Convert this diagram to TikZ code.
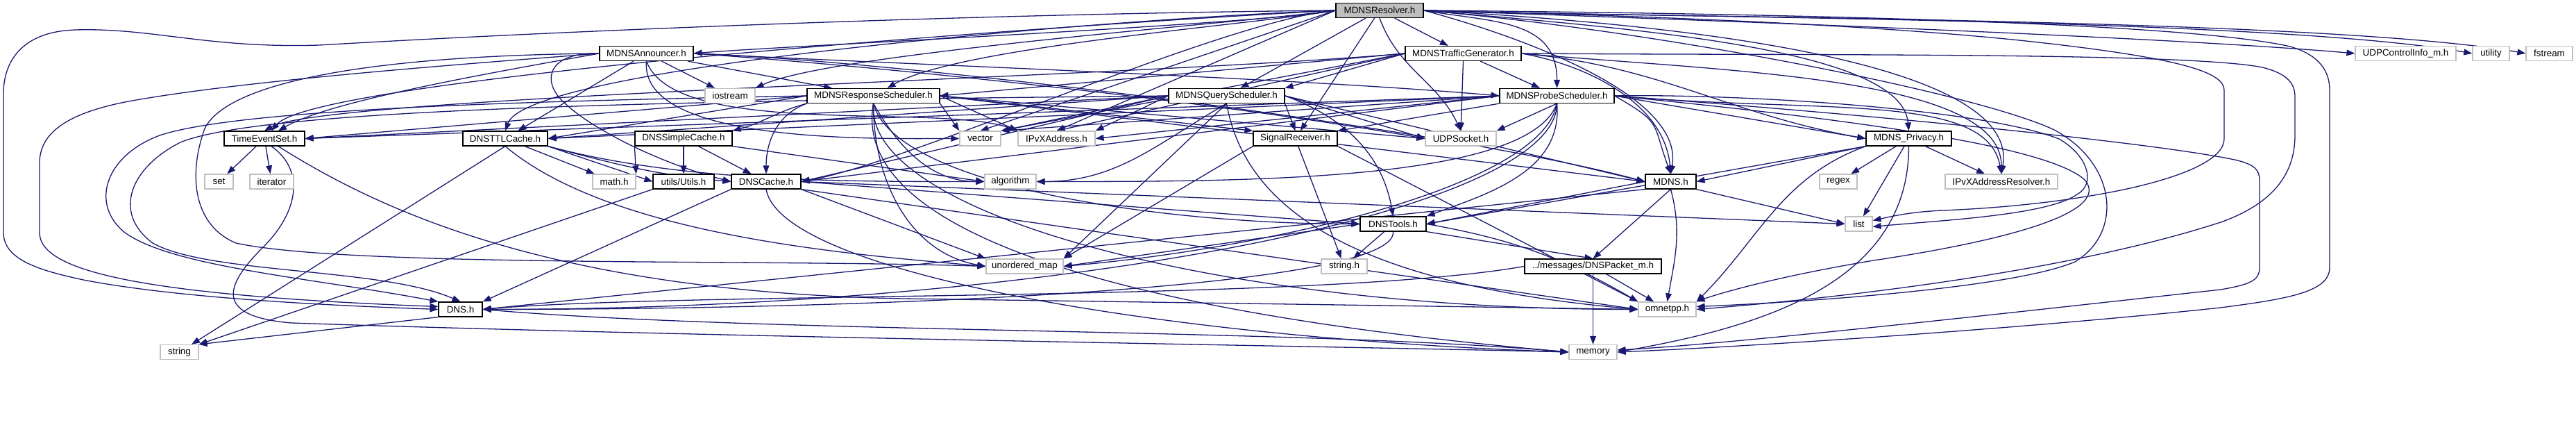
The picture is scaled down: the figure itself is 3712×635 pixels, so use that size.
\documentclass[tikz,border=0pt]{standalone}
\usepackage{fontspec}
\setmainfont{Liberation Sans}
\usetikzlibrary{arrows.meta,calc}
\pgfdeclarelayer{bg}
\pgfsetlayers{bg,main}
\definecolor{eb}{HTML}{191970}
\definecolor{gb}{HTML}{BFBFBF}
\begin{document}
\begin{tikzpicture}[x=0.5pt,y=0.5pt,
 nd/.style={draw=black,line width=0.6pt,fill=white,inner sep=0pt,minimum height=10.5pt,font=\fontsize{6.7pt}{7pt}\selectfont},
 gn/.style={nd,draw=gb},
 wd/.style={minimum width=#1*0.5pt},
 e/.style={draw=eb,line width=0.65pt,-{Triangle[length=6pt,width=4.4pt]}}]
\useasboundingbox (0,0) rectangle (3712,635);
\node[nd,fill=gb,wd=126] (R) at (1988,620) {MDNSResolver.h};
\node[nd,wd=135] (A) at (931.5,558) {MDNSAnnouncer.h};
\node[nd,wd=167] (TG) at (2108.5,558) {MDNSTrafficGenerator.h};
\node[gn,wd=145] (UCI) at (3466.5,558) {UDPControlInfo\_m.h};
\node[gn,wd=53] (UT) at (3589.5,558) {utility};
\node[gn,wd=67] (FS) at (3673.5,558) {fstream};
\node[gn,wd=72] (IOS) at (1052,497) {iostream};
\node[nd,wd=191] (RS) at (1258.5,497) {MDNSResponseScheduler.h};
\node[nd,wd=167] (QS) at (1767.5,497) {MDNSQueryScheduler.h};
\node[nd,wd=165] (PS) at (2243.5,497) {MDNSProbeScheduler.h};
\node[nd,wd=116] (TES) at (381,435.5) {TimeEventSet.h};
\node[nd,wd=122] (TTL) at (728,435.5) {DNSTTLCache.h};
\node[nd,wd=140] (DSC) at (985,435.5) {DNSSimpleCache.h};
\node[gn,wd=59] (VEC) at (1412.5,435.5) {vector};
\node[gn,wd=111] (IA) at (1522.5,435.5) {IPvXAddress.h};
\node[nd,wd=121] (SR) at (1866.5,435.5) {SignalReceiver.h};
\node[gn,wd=102] (US) at (2105,435.5) {UDPSocket.h};
\node[nd,wd=123] (P) at (2750.5,435.5) {MDNS\_Privacy.h};
\node[gn,wd=41] (SET) at (315.5,373.5) {set};
\node[gn,wd=63] (ITR) at (391.5,373.5) {iterator};
\node[gn,wd=62] (MATH) at (885,373.5) {math.h};
\node[nd,wd=88] (UTL) at (985,373.5) {utils/Utils.h};
\node[nd,wd=100] (DC) at (1104,373.5) {DNSCache.h};
\node[gn,wd=74] (ALG) at (1456,373.5) {algorithm};
\node[nd,wd=73] (M) at (2407.5,373.5) {MDNS.h};
\node[gn,wd=54] (RGX) at (2649,373.5) {regex};
\node[gn,wd=162] (IAR) at (2884,373.5) {IPvXAddressResolver.h};
\node[nd,wd=95] (DT) at (2007.5,312.5) {DNSTools.h};
\node[gn,wd=39] (LST) at (2678.5,312.5) {list};
\node[gn,wd=66] (SH) at (1937,251.5) {string.h};
\node[gn,wd=111] (UM) at (1476.5,251.5) {unordered\_map};
\node[nd,wd=197] (PK) at (2295.5,251.5) {../messages/DNSPacket\_m.h};
\node[nd,wd=63] (DNS) at (663.5,189.5) {DNS.h};
\node[gn,wd=83] (OMN) at (2402.5,189.5) {omnetpp.h};
\node[gn,wd=55] (STR) at (258.5,128) {string};
\node[gn,wd=69] (MEM) at (2295.5,128) {memory};
\begin{pgfonlayer}{bg}
% MDNSResolver
\draw[e] (R.west) to[out=190,in=5,distance=60pt] (A.east);
\draw[e] (R) -- (TG);
\draw[e] (R) -- (QS);
\draw[e] (R) -- (SR);
\draw[e] (R.south) to[out=-70,in=115] (US.north);
\draw[e] (R.east) to[out=-10,in=90,distance=50pt] (PS.north);
\draw[e] (R.west) to[out=190,in=30,distance=60pt] ($(RS.north)+(20,0)$);
\draw[e] (R.west) to[out=188,in=25,distance=60pt] (IOS.north east);
\draw[e] (R.west) -- (VEC.north);
\draw[e] (R.west) -- (IA.north);
\draw[e] (R.west) to[out=182,in=70,out distance=150pt,in distance=50pt] (TTL.north);
\draw[e] (R.west) to[out=185,in=10,distance=80pt] (DC.east);
\draw[e] (R.west) to[out=183,in=50,out distance=200pt,in distance=50pt] ($(TES.north)+(10,0)$);
\draw[e] (R.east) to[out=-15,in=80,distance=60pt] (M.north);
\draw[e] (R.east) to[out=-5,in=95,out distance=150pt,in distance=60pt] (P.north);
\draw[e] (R.east) to[out=-3,in=80,out distance=200pt,in distance=80pt] (IAR.north);
\draw[e] (R.east) to[out=-2,in=175,distance=150pt] (UCI.west);
\draw[e] (R.east) to[out=-2,in=170,distance=150pt] (UT.west);
\draw[e] (R.east) to[out=-2,in=170,distance=150pt] (FS.west);
\draw[e] (R.west) .. controls (1400,615) and (800,590) .. (460,570) .. controls (300,565) and (220,595) .. (110,592) .. controls (30,590) and (5,545) .. (5,500) -- (5,300) .. controls (5,260) and (60,245) .. (120,232) .. controls (260,205) and (480,195) .. (DNS.west);
\draw[e] (R.east) .. controls (2400,612) and (2700,598) .. (2900,578) .. controls (3150,552) and (3205,530) .. (3205,505) -- (3205,435) .. controls (3205,380) and (3000,340) .. (2800,332) .. controls (2750,330) and (2720,322) .. ($(LST.east)+(0,5)$);
\draw[e] (R.east) .. controls (2600,615) and (3150,602) .. (3300,568) .. controls (3345,555) and (3357,530) .. (3357,505) -- (3357,250) .. controls (3357,215) and (3300,205) .. (3200,192) .. controls (2900,160) and (2500,135) .. (MEM.east);
\draw[e] (R.east) .. controls (2400,590) and (2850,500) .. (2960,448) .. controls (3050,400) and (3060,300) .. (2990,258) .. controls (2900,220) and (2600,200) .. ($(OMN.east)+(0,4)$);
% MDNSAnnouncer
\draw[e] (A) -- (IOS);
\draw[e] (A) -- (RS);
\draw[e] (A) -- (TTL);
\draw[e] (A.west) to[out=190,in=30,out distance=100pt,in distance=40pt] ($(TES.north)+(20,0)$);
\draw[e] (A.south) to[out=-95,in=180,distance=60pt] (VEC.west);
\draw[e] (A.south) to[out=-70,in=160,distance=60pt] (IA.north west);
\draw[e] (A.west) .. controls (790,560) and (780,520) .. (810,490) .. controls (850,450) and (950,400) .. (DC.west);
\draw[e] (A.east) to[out=-3,in=175,distance=150pt] (PS.west);
\draw[e] (A.east) to[out=-2,in=165,distance=150pt] (M.west);
\draw[e] (A.east) to[out=-4,in=170,distance=150pt] (US.west);
\draw[e] (A.west) .. controls (700,545) and (350,520) .. (180,488) .. controls (90,470) and (57,440) .. (57,400) -- (57,300) .. controls (57,245) and (200,210) .. ($(DNS.west)+(0,4)$);
\draw[e] (A.west) .. controls (550,555) and (330,520) .. (295,450) .. controls (270,380) and (280,310) .. (340,285) .. controls (500,250) and (1100,262) .. (UM.west);
% MDNSTrafficGenerator
\draw[e] (TG) -- (PS);
\draw[e] (TG.south) -- (US.north);
\draw[e] (TG.west) -- (QS.north east);
\draw[e] (TG.west) -- (RS.east);
\draw[e] (TG.west) to[out=185,in=30,out distance=200pt,in distance=50pt] (TES.north);
\draw[e] (TG.west) -- (VEC.north east);
\draw[e] (TG.west) -- (IA.north);
\draw[e] (TG.east) to[out=-10,in=95,distance=50pt] (M.north);
\draw[e] (TG.east) to[out=-5,in=170,distance=100pt] (P.west);
\draw[e] (TG.east) to[out=-5,in=90,out distance=150pt,in distance=70pt] (IAR.north);
\draw[e] (TG.east) .. controls (2600,555) and (3150,560) .. (3260,538) .. controls (3300,528) and (3307,512) .. (3307,495) -- (3307,440) .. controls (3307,380) and (3270,340) .. (3200,315) .. controls (3000,250) and (2700,210) .. (OMN.east);
% MDNSResponseScheduler
\draw[e] (RS.west) -- (TES.east);
\draw[e] (RS.west) -- (TTL.east);
\draw[e] (RS.south west) to[out=195,in=15] (DSC.north east);
\draw[e] (RS.south west) to[out=200,in=90] (DC.north);
\draw[e] (RS.south east) -- (VEC.north west);
\draw[e] (RS.east) -- (IA.north west);
\draw[e] (RS.south) to[out=-60,in=180] (ALG.west);
\draw[e] (RS.south) to[out=-90,in=170] (UM.west);
\draw[e] (RS.south) to[out=-75,in=180,out distance=60pt,in distance=150pt] (DT.west);
\draw[e] (RS.south) to[out=-95,in=180,out distance=80pt,in distance=300pt] (OMN.west);
\draw[e] (RS.south) to[out=-100,in=175,out distance=100pt,in distance=300pt] (MEM.west);
\draw[e] (RS.east) -- (M.west);
\draw[e] (RS.east) -- (SR.north west);
\draw[e] (RS.east) -- (US.west);
\draw[e] (RS.west) .. controls (800,490) and (350,480) .. (230,440) .. controls (150,410) and (130,340) .. (180,300) .. controls (250,250) and (450,235) .. (DNS.north west);
% MDNSQueryScheduler
\draw[e] (QS.west) -- (TES.east);
\draw[e] (QS.west) -- (TTL.east);
\draw[e] (QS.west) -- (DC.east);
\draw[e] (QS.west) -- (VEC.north east);
\draw[e] (QS.west) -- (IA.north east);
\draw[e] (QS.south) to[out=-150,in=0] (ALG.east);
\draw[e] (QS.south) -- (UM.north east);
\draw[e] (QS.south east) -- (SR.north);
\draw[e] (QS.east) -- (US.west);
\draw[e] (QS.east) to[out=-20,in=100] (DT.north);
\draw[e] (QS.east) -- (M.west);
\draw[e] (QS.south) to[out=-80,in=175,out distance=80pt,in distance=200pt] (OMN.west);
\draw[e] (QS.west) .. controls (1000,490) and (380,480) .. (260,430) .. controls (190,395) and (160,330) .. (220,285) .. controls (300,240) and (550,250) .. (DNS.north);
% MDNSProbeScheduler
\draw[e] (PS.west) -- (TES.east);
\draw[e] (PS.west) -- (TTL.east);
\draw[e] (PS.west) -- (DC.east);
\draw[e] (PS.west) -- (VEC.north east);
\draw[e] (PS.west) -- (IA.east);
\draw[e] (PS.south) -- (US.north east);
\draw[e] (PS.south west) -- (SR.north east);
\draw[e] (PS.south) to[out=-110,in=0,out distance=60pt,in distance=150pt] (ALG.east);
\draw[e] (PS.south) to[out=-100,in=5,out distance=60pt,in distance=150pt] (UM.east);
\draw[e] (PS.south) to[out=-85,in=20] (DT.north east);
\draw[e] (PS.south) to[out=-90,in=0,out distance=80pt,in distance=400pt] (DNS.east);
\draw[e] (PS.east) to[out=-30,in=110,distance=40pt] (M.north);
\draw[e] (PS.east) -- (P.west);
\draw[e] (PS.east) to[out=-5,in=100,out distance=150pt,in distance=60pt] (IAR.north);
\draw[e] (PS.east) .. controls (2700,470) and (3100,430) .. (3220,405) .. controls (3250,398) and (3256,390) .. (3256,375) -- (3256,250) .. controls (3256,230) and (3240,225) .. (3200,218) .. controls (2900,185) and (2500,140) .. ($(MEM.east)+(0,3)$);
\draw[e] (PS.east) .. controls (2500,500) and (2850,480) .. (2967,435) .. controls (3010,410) and (3020,370) .. (2993,355) .. controls (2950,325) and (2800,318) .. ($(LST.east)+(0,-4)$);
\draw[e] (PS.east) .. controls (2600,470) and (2950,430) .. (3005,375) .. controls (3040,330) and (2900,290) .. (2700,260) .. controls (2550,235) and (2470,210) .. (OMN.north east);
% TimeEventSet
\draw[e] (TES) -- (SET);
\draw[e] (TES) -- (ITR);
\draw[e] ($(TES.south)+(20,0)$) .. controls (550,330) and (800,215) .. (1300,205) .. controls (1800,198) and (2200,192) .. (OMN.west);
\draw[e] ($(TES.south)+(10,0)$) .. controls (440,390) and (430,330) .. (380,280) .. controls (330,230) and (300,180) .. (420,170) .. controls (1000,150) and (2000,135) .. (MEM.west);
% DNSTTLCache
\draw[e] (TTL) -- (MATH);
\draw[e] (TTL.south east) -- (UTL.west);
\draw[e] (TTL.south east) to[out=-15,in=175] (DC.west);
\draw[e] (TTL.south) -- (STR);
\draw[e] (TTL.south) to[out=-40,in=175,distance=100pt] (UM.west);
\draw[e] (TTL.south east) to[out=-15,in=180,distance=100pt] (ALG.west);
% DNSSimpleCache
\draw[e] (DSC) -- (UTL);
\draw[e] (DSC) -- (DC);
\draw[e] (DSC.south west) -- (MATH.north east);
\draw[e] (DSC.south east) -- (ALG.west);
% DNSCache
\draw[e] (DC.south west) -- (DNS.north east);
\draw[e] (DC.south east) -- (UM.north west);
\draw[e] (DC.south) to[out=-80,in=178,out distance=60pt,in distance=300pt] (MEM.west);
\draw[e] (DC.east) -- (DT.west);
\draw[e] (DC.east) -- (LST.west);
\draw[e] (DC.south east) -- (OMN.west);
% utils
\draw[e] (UTL.south west) -- (STR.north east);
% SignalReceiver
\draw[e] (SR) -- (SH);
\draw[e] (SR.south west) -- (UM.north east);
\draw[e] (SR.south east) -- (OMN.north west);
% DNSTools
\draw[e] (DT) -- (SH);
\draw[e] (DT.south east) -- (PK.north);
\draw[e] (DT.south) to[out=-85,in=0,out distance=40pt,in distance=300pt] (DNS.east);
\draw[e] (DT.west) -- (UM.east);
\draw[e] (DT.east) to[out=-10,in=150] (OMN.north west);
% MDNS
\draw[e] (M.west) -- (DT.east);
\draw[e] (M.south) -- (PK.north);
\draw[e] (M.south) to[out=-75,in=80] (OMN.north);
\draw[e] (M.south east) -- (LST.west);
\draw[e] (M.south west) -- (DNS.east);
% MDNS_Privacy
\draw[e] (P.south west) -- (M.east);
\draw[e] (P) -- (RGX);
\draw[e] (P) -- (LST);
\draw[e] (P.south west) to[out=-160,in=45] (OMN.north east);
\draw[e] (P.south) to[out=-90,in=10] (MEM.east);
\draw[e] (P) -- (IAR);
\draw[e] (P.south west) to[out=-170,in=10,distance=100pt] (DT.east);
% DNSPacket
\draw[e] (PK) -- (OMN);
\draw[e] (PK) -- (MEM);
\draw[e] (PK.west) to[out=190,in=5,distance=150pt] (DNS.east);
% DNS
\draw[e] (DNS.south west) -- (STR.north east);
\draw[e] (DNS.east) to[out=-5,in=175,distance=200pt] (MEM.west);
\end{pgfonlayer}
\end{tikzpicture}
\end{document}
